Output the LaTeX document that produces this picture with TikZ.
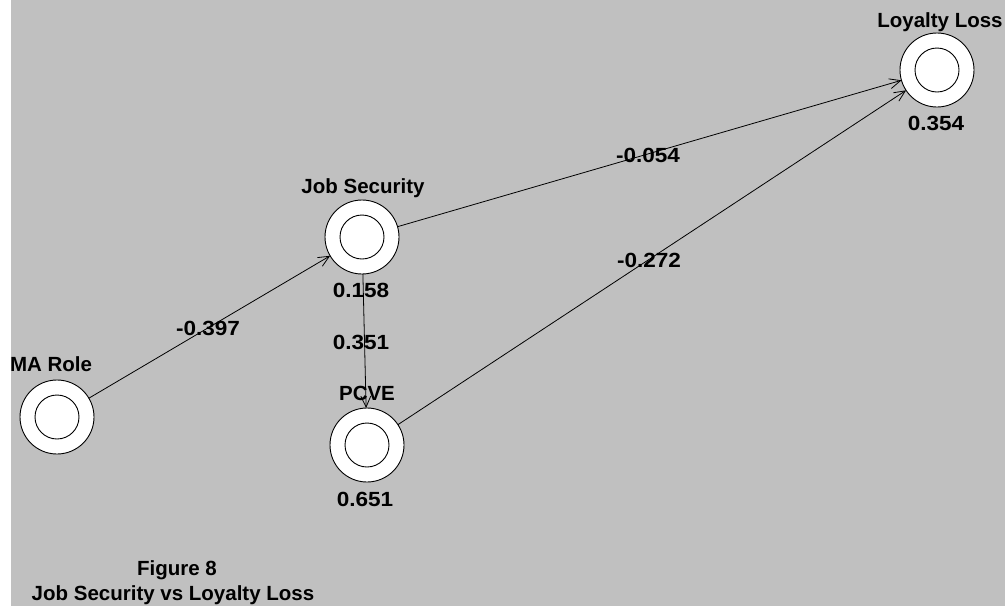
\documentclass[tikz,border=0pt]{standalone}
\usepackage{fontspec}
\setmainfont{Liberation Sans}
\newfontfamily\lblfont{Liberation Sans}
\newfontfamily\numfont[FakeStretch=1.1]{Liberation Sans}
\usetikzlibrary{arrows.meta}
\definecolor{panelgray}{HTML}{C0C0C0}

\tikzset{
  bubble/.style={circle, draw=black, fill=white, line width=0.9pt,
    minimum size=74pt, inner sep=0pt, outer sep=0pt},
  core/.style={draw=black, line width=0.9pt},
  nodetitle/.style={font=\lblfont\bfseries\fontsize{20.5}{24}\selectfont,
    anchor=base, inner sep=0pt},
  score/.style={font=\numfont\bfseries\fontsize{20.5}{24}\selectfont,
    anchor=base, inner sep=0pt},
  caption/.style={font=\lblfont\bfseries\fontsize{20.5}{24}\selectfont,
    anchor=base, inner sep=0pt},
  link/.style={-{Straight Barb[length=11pt,width=10pt]}, line width=0.8pt},
}

\begin{document}
\begin{tikzpicture}[x=1pt, y=-1pt]
  \useasboundingbox (0,0) rectangle (1005,606);
  % window background with the light strip on the left
  \fill[white] (0,0) rectangle (11,606);
  \fill[panelgray] (11,0) rectangle (1005,606);

  % variables
  \node[bubble] (ma)   at (57,417) {};
  \node[bubble] (js)   at (362,237) {};
  \node[bubble] (pcve) at (367,445) {};
  \node[bubble] (ll)   at (937,70) {};
  \foreach \n in {ma,js,pcve,ll}
    \draw[core] (\n.center) circle[radius=22];

  % variable names
  \node[nodetitle] (ma-t)   at (51,371)  {MA Role};
  \node[nodetitle] (js-t)   at (363,193) {Job Security};
  \node[nodetitle] (pcve-t) at (367,400) {PCVE};
  \node[nodetitle] (ll-t)   at (940,27)  {Loyalty Loss};

  % explained variance
  \node[score] (js-s)   at (361,297) {0.158};
  \node[score] (pcve-s) at (365,506) {0.651};
  \node[score] (ll-s)   at (936,130) {0.354};

  % path coefficients
  \node[score] (c-ma-js)   at (208,335) {-0.397};
  \node[score] (c-js-pcve) at (361,349) {0.351};
  \node[score] (c-js-ll)   at (648,162) {-0.054};
  \node[score] (c-pcve-ll) at (649,267) {-0.272};

  % paths
  \draw[link] (ma) -- (js);
  \draw[link] (js) -- (ll);
  \draw[link] (pcve) -- (ll);
  \draw[link] (js) -- (pcve);

  % caption
  \node[caption] (cap1) at (177,575) {Figure 8};
  \node[caption] (cap2) at (173,600) {Job Security vs Loyalty Loss};
\end{tikzpicture}
\end{document}
